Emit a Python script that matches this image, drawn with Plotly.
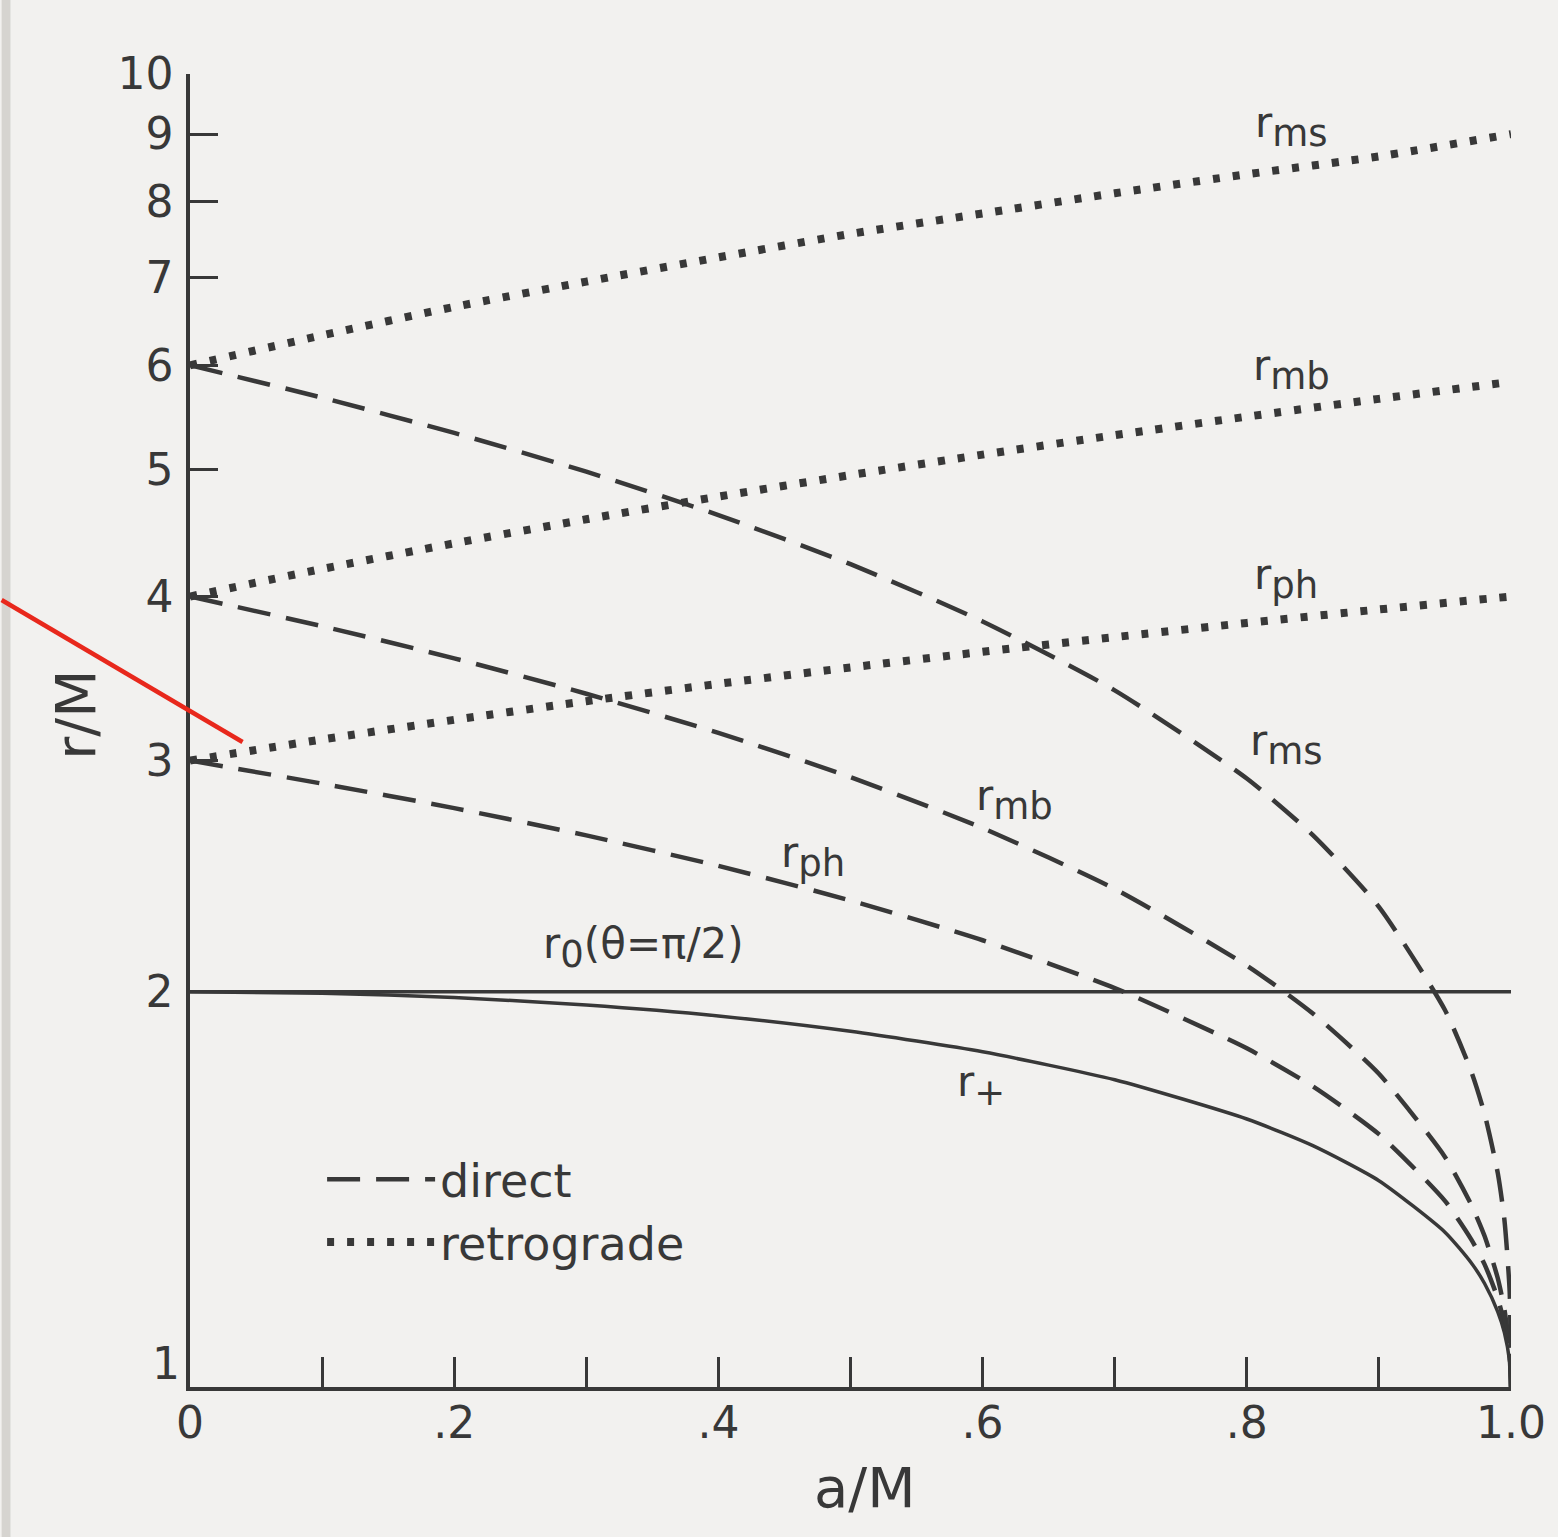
import plotly.graph_objects as go

# spin parameter a/M
a_vals = [0.0, 0.1, 0.2, 0.3, 0.4, 0.5, 0.6, 0.7, 0.8, 0.85, 0.9, 0.95, 0.97, 0.98, 0.99, 0.995, 0.999, 1.0]

# direct (prograde) orbits
rms_direct = [6.0, 5.669, 5.329, 4.979, 4.614, 4.233, 3.829, 3.393, 2.907, 2.632, 2.321, 1.937, 1.738, 1.614, 1.455, 1.341, 1.182, 1.0]
rmb_direct = [4.0, 3.797, 3.589, 3.373, 3.149, 2.914, 2.665, 2.395, 2.094, 1.925, 1.732, 1.497, 1.376, 1.303, 1.210, 1.146, 1.064, 1.0]
rph_direct = [3.0, 2.881, 2.760, 2.631, 2.494, 2.347, 2.189, 2.013, 1.811, 1.694, 1.558, 1.386, 1.295, 1.240, 1.168, 1.117, 1.053, 1.0]

# retrograde orbits
a_retro = [0.0, 0.1, 0.2, 0.3, 0.4, 0.5, 0.6, 0.7, 0.8, 0.9, 1.0]
rms_retro = [6.0, 6.323, 6.647, 6.949, 7.250, 7.555, 7.830, 8.113, 8.387, 8.654, 9.0]
rmb_retro = [4.0, 4.198, 4.391, 4.580, 4.766, 4.949, 5.130, 5.308, 5.483, 5.657, 5.828]
rph_retro = [3.0, 3.113, 3.222, 3.329, 3.432, 3.532, 3.630, 3.725, 3.819, 3.910, 4.0]

# horizon and static limit
rplus = [2.0, 1.995, 1.980, 1.954, 1.917, 1.866, 1.800, 1.714, 1.600, 1.527, 1.436, 1.312, 1.243, 1.199, 1.141, 1.100, 1.045, 1.0]
a_r0 = [0.0, 1.0]
r0 = [2.0, 2.0]

x_tickvals = [0.0, 0.2, 0.4, 0.6, 0.8, 1.0]
x_ticktext = ["0", ".2", ".4", ".6", ".8", "1.0"]
y_tickvals = [2, 3, 4, 5, 6, 7, 8, 9, 10]
y_ticktext = ["2", "3", "4", "5", "6", "7", "8", "9", "10"]

INK = "#383838"
BG = "#f2f1ef"
FONT = "DejaVu Sans"
DASH = "33px,16px"
DOT = "7px,13px"

fig = go.Figure()

def add(x, y, dash, width, name=None, legend=False, shape="spline"):
    fig.add_trace(go.Scatter(
        x=x, y=y, mode="lines", name=name, showlegend=legend,
        line=dict(color=INK, width=width, dash=dash, shape=shape, smoothing=0.6),
        hoverinfo="skip"))

add(a_vals, rms_direct, DASH, 4.5, "direct", True)
add(a_vals, rmb_direct, DASH, 4.5)
add(a_vals, rph_direct, DASH, 4.5)
add(a_retro, rms_retro, DOT, 8, "retrograde", True)
add(a_retro, rmb_retro, DOT, 8)
add(a_retro, rph_retro, DOT, 8)
add(a_r0, r0, "solid", 3.5, shape="linear")
add(a_vals, rplus, "solid", 3.5)

SUB = "<sub><span style='font-size:37px'>%s</span></sub>"
labels = [
    ("r" + SUB % "ms", 0.834, 0.9597),
    ("r" + SUB % "mb", 0.834, 0.7746),
    ("r" + SUB % "ph", 0.830, 0.6161),
    ("r" + SUB % "ms", 0.830, 0.4890),
    ("r" + SUB % "mb", 0.624, 0.4471),
    ("r" + SUB % "ph", 0.4714, 0.4037),
    ("r" + SUB % "0" + "(θ=π/2)", 0.3436, 0.3344),
    ("r" + SUB % "+", 0.599, 0.2300),
]
for txt, x, ly in labels:
    fig.add_annotation(x=x, y=ly, xref="x", yref="y", text=txt, showarrow=False,
                       font=dict(family=FONT, size=42, color=INK))

# y = 1 tick label, sitting just above the axis
fig.add_annotation(x=0, y=0, xref="paper", yref="paper", text="1", showarrow=False,
                   xanchor="right", yanchor="bottom", xshift=-8, yshift=-4,
                   font=dict(family=FONT, size=44, color=INK))

# axis titles
fig.add_annotation(x=-0.0863, y=0.512, xref="paper", yref="paper", text="r/M", showarrow=False,
                   textangle=-90, xanchor="center", yanchor="middle",
                   font=dict(family=FONT, size=56, color=INK))
fig.add_annotation(x=0.5112, y=-0.0765, xref="paper", yref="paper", text="a/M", showarrow=False,
                   xanchor="center", yanchor="middle",
                   font=dict(family=FONT, size=56, color=INK))

# left scan strip and red pointer line
fig.add_shape(type="rect", xref="paper", yref="paper", x0=-0.1426, x1=-0.1359, y0=-0.2, y1=1.1,
              line=dict(width=0), fillcolor="#d6d4d0", layer="below")
fig.add_shape(type="line", xref="paper", yref="paper", x0=-0.1426, y0=0.5994, x1=0.0398, y1=0.4912,
              line=dict(color="#e8281c", width=4.5))

fig.update_layout(
    width=1558, height=1537,
    margin=dict(l=190, r=36, t=74, b=150),
    paper_bgcolor=BG, plot_bgcolor=BG,
    font=dict(family=FONT, color=INK),
    showlegend=True,
    legend=dict(x=0.1, y=0.186, xanchor="left", yanchor="top",
                bgcolor="rgba(0,0,0,0)", font=dict(family=FONT, size=46, color=INK),
                itemwidth=108, tracegroupgap=2),
    hovermode=False,
)
fig.update_xaxes(range=[0, 1], tickvals=x_tickvals, ticktext=x_ticktext,
                 ticks="inside", ticklen=30, tickwidth=3, tickcolor=INK,
                 minor=dict(dtick=0.1, tick0=0, ticks="inside", ticklen=30, tickwidth=3,
                            tickcolor=INK, showgrid=False),
                 showline=True, linewidth=3.5, linecolor=INK, mirror=False,
                 showgrid=False, zeroline=False, ticklabelstandoff=-6,
                 ticklabeloverflow="allow",
                 tickfont=dict(family=FONT, size=44, color=INK))
fig.update_yaxes(type="log", range=[0, 1], tickvals=y_tickvals, ticktext=y_ticktext,
                 ticks="inside", ticklen=28, tickwidth=3, tickcolor=INK,
                 showline=True, linewidth=3.5, linecolor=INK,
                 showgrid=False, zeroline=False, ticklabeloverflow="allow",
                 tickfont=dict(family=FONT, size=44, color=INK), ticklabelstandoff=4)

fig.write_html("out.html", config={"displayModeBar": False},
               post_script="document.body.style.margin='0px';document.body.style.overflow='hidden';")
